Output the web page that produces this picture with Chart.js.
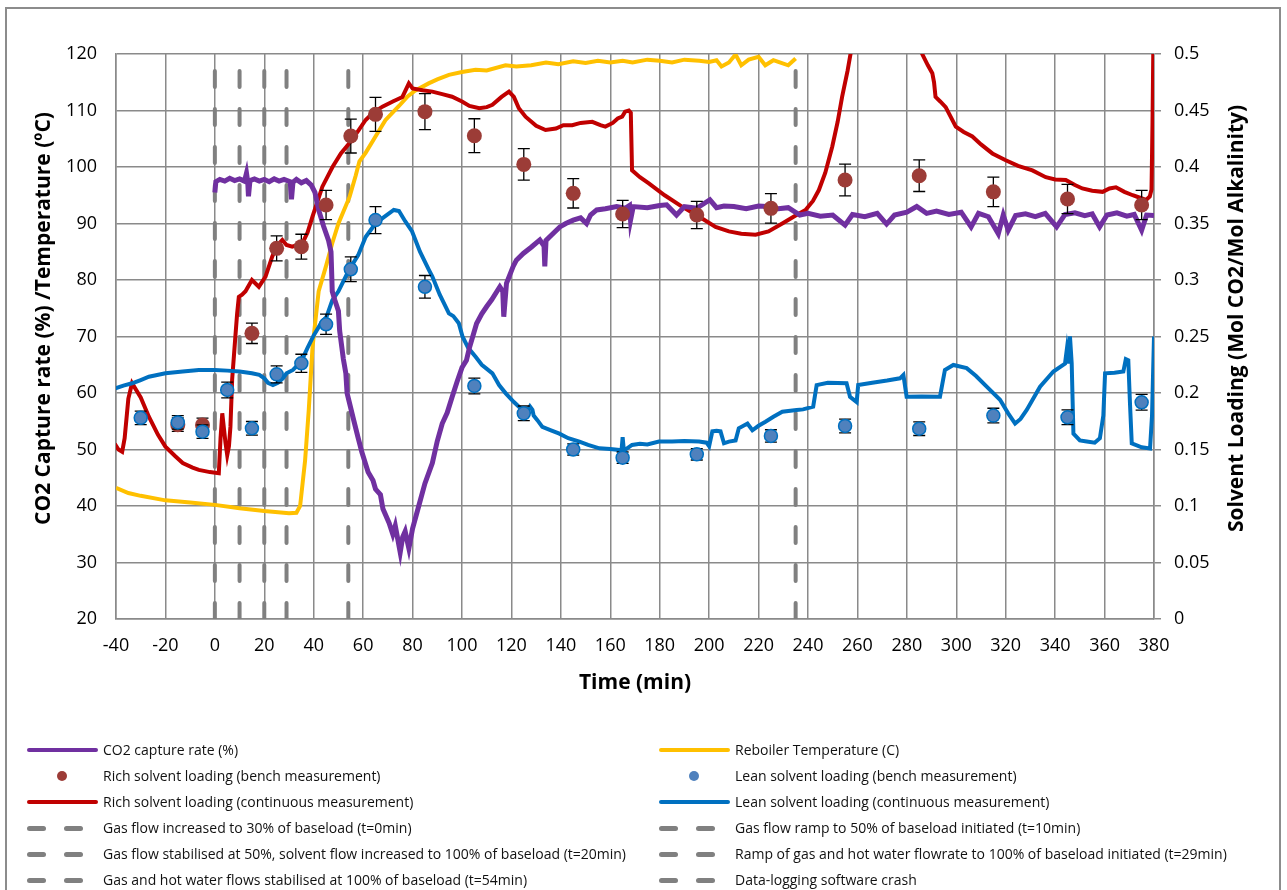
<!DOCTYPE html>
<html>
<head>
<meta charset="utf-8">
<script src="https://cdn.jsdelivr.net/npm/chart.js@4.4.1/dist/chart.umd.min.js"></script>
<style>
  html, body { margin: 0; padding: 0; background: #fff; }
  body { width: 1287px; height: 890px; position: relative; overflow: hidden; font-family: 'Open Sans', sans-serif; }
  #frame { position: absolute; left: 5px; top: 7px; width: 1272px; height: 900px; border: 2px solid #8c8c8c; }
  #chart { position: absolute; left: 0; top: 0; }
  .item { position: absolute; height: 20px; line-height: 20px; font-size: 14px; color: #111; white-space: nowrap; }
  .item .txt { position: absolute; left: 76px; top: 0; }
  .sw { position: absolute; }
</style>
</head>
<body>
<div id="frame"></div>
<canvas id="chart" width="1287" height="890"></canvas>
<div id="legend"></div>
<script>
// CO2 capture rate (%) [time min, value]
const co2Capture = [[0,95.5],[0.4,97.4],[2,97.8],[4,97.5],[6,98.0],[8,97.6],[10,97.9],[12,97.5],[12.8,98.9],[13.3,97.4],[13.6,94.8],[14.2,97.6],[16,97.9],[18,97.5],[20,97.8],[22,97.4],[24,97.9],[26,97.5],[28,97.8],[30.5,97.4],[31,94.3],[31.6,97.3],[33,97.8],[35,97.2],[37,97.6],[39,96.8],[40.5,95.5],[42,92.4],[44,89.5],[46,87],[47,85],[47.5,78],[48.5,76.5],[50,74.5],[50.5,71],[52,66],[53,63.5],[53.5,60],[56,55.5],[58,52],[59.5,49.5],[62,46],[64,44.5],[65,43],[67,42],[68,39.5],[70.5,37],[72,35],[73,36.5],[75,31.8],[76,34.5],[77,35.5],[78.5,32.5],[80,36],[82.5,40],[85,44],[88,47.6],[90,51.5],[92,54.6],[94,56.5],[96,59.3],[98,62],[100,64.5],[101.8,65.8],[103,68],[105.9,72.3],[108,74],[110,75.3],[112,76.5],[115.3,78.8],[116.5,78],[116.9,73.5],[118,79.4],[120.7,82.4],[122,83.5],[124.8,84.7],[128,85.8],[131.5,87.1],[133.2,86],[133.5,82.4],[134,87],[135.6,87.7],[139.6,89.4],[142,90],[145,90.6],[148,91],[150.4,90],[152,91.5],[154.5,92.4],[158,92.6],[162.6,93],[166,92.7],[167.8,93.2],[168.2,90.6],[169.3,93],[175,92.8],[180,93.2],[182.8,93.3],[186.8,91.5],[190,93],[195,92.7],[200.3,94.2],[203,92.8],[206,93.1],[210,93],[215,92.6],[220,93.1],[223.3,93],[228,92.6],[232,92.8],[236.7,91.5],[240,91.8],[245,91.3],[250,91.5],[255,89.7],[258,91.6],[263,91.2],[268,91.8],[271.8,89.9],[275,91.5],[280,92],[284,93],[288,91.8],[292,92.2],[297,91.6],[302,92],[306,89.4],[309,91.8],[313,91.2],[317,88.2],[319,91.5],[321,88.8],[324,91.4],[328,91.7],[332,91.2],[336,91.8],[340.6,89.4],[344,91.6],[348,91.9],[352,91.4],[355,91.7],[358,89.4],[361,91.5],[365,91.9],[369,91.3],[372,91.6],[375,88.8],[377,91.5],[380,91.4]];

// Reboiler temperature (C)
const reboilerTemp = [[-40,43.2],[-35,42.3],[-30,41.8],[-20,41],[-10,40.6],[0,40.2],[10,39.6],[20,39.1],[30,38.7],[33,38.8],[34.5,40],[35.5,44],[36.5,48],[38,57],[39.5,68],[41,74],[42,78],[45,82.5],[47.5,86.5],[50,90],[54.5,94.7],[57,98.5],[58.5,101],[61,102.5],[65,105.4],[69,108.3],[74.5,110.8],[78,112.5],[81,113.5],[86.5,114.8],[90,115.5],[94.7,116.3],[100,116.8],[105.5,117.2],[110,117.1],[117.6,118],[122,117.8],[128,118],[134,118.5],[139,118.2],[145,118.7],[150,118.4],[155,118.8],[160,118.5],[165,118.8],[169,118.5],[175,119],[180,118.8],[185,118.5],[190,119],[196,118.8],[200,118.6],[203,118.9],[205,117.8],[208,118.5],[210.7,119.9],[213,118],[216,119],[220,119.5],[222.7,118],[226,118.9],[228,118.6],[232,118],[235,119.2]];

// Rich solvent loading, continuous (mol/mol)
const richContinuous = [[-40.5,0.155],[-39,0.150],[-37.5,0.148],[-36.5,0.16],[-35,0.195],[-33.5,0.2086],[-30,0.196],[-26.7,0.179],[-23,0.163],[-20,0.1525],[-16,0.144],[-13,0.138],[-9,0.134],[-6.5,0.132],[-2,0.13],[1.6,0.129],[2.3,0.16],[3,0.182],[3.6,0.17],[4.3,0.156],[5,0.145],[5.7,0.153],[6.3,0.17],[7,0.212],[8.3,0.25],[9,0.27],[9.7,0.285],[11,0.287],[12.4,0.29],[15,0.300],[17.8,0.294],[20.5,0.303],[23.2,0.3206],[25,0.33],[27.3,0.3354],[29,0.331],[31.3,0.3295],[35.4,0.3325],[37.5,0.342],[39.5,0.356],[43.5,0.3826],[47.6,0.400],[51,0.412],[54.4,0.421],[58,0.432],[61,0.4416],[64,0.448],[67.8,0.4534],[72,0.458],[75.9,0.462],[78.5,0.474],[80,0.4696],[84,0.468],[88,0.4667],[92,0.4645],[96,0.4622],[100,0.458],[103,0.454],[107,0.452],[110,0.453],[112.3,0.455],[116,0.462],[119,0.4667],[121,0.462],[123,0.452],[125.7,0.4445],[130,0.4365],[133.8,0.4327],[138,0.434],[141,0.437],[144.6,0.437],[148,0.439],[152.7,0.440],[156,0.437],[158,0.4357],[161,0.439],[163,0.443],[164.8,0.4445],[166,0.449],[167.5,0.450],[168.3,0.448],[168.8,0.397],[172,0.391],[175.6,0.3855],[182,0.375],[189,0.365],[196,0.356],[202.6,0.347],[208,0.343],[213,0.341],[218.8,0.340],[224,0.343],[229.6,0.350],[235,0.357],[239,0.362],[242,0.37],[244.4,0.3796],[247,0.395],[249.8,0.418],[252,0.44],[253.8,0.462],[256,0.485],[258,0.51],[262,0.56],[270,0.60],[280,0.58],[284,0.53],[286.2,0.50],[288.5,0.49],[290.3,0.483],[291,0.475],[291.6,0.462],[293.5,0.458],[295.7,0.453],[299.8,0.4357],[303,0.431],[306.5,0.427],[310,0.42],[314.6,0.412],[320,0.406],[325,0.401],[330.8,0.397],[336.2,0.391],[340,0.389],[344.3,0.3885],[348,0.384],[351,0.381],[355,0.379],[359.2,0.378],[362,0.381],[364.6,0.382],[368,0.378],[371.4,0.375],[374,0.373],[376.8,0.3708],[378.3,0.374],[379,0.38],[379.4,0.44],[379.8,0.52]];

// Lean solvent loading, continuous (mol/mol)
const leanContinuous = [[-40.5,0.204],[-37,0.2065],[-33.5,0.2086],[-30,0.2115],[-26.7,0.2144],[-20,0.2174],[-13,0.219],[-6.5,0.2204],[0,0.2204],[5,0.2198],[10,0.219],[15,0.2175],[18,0.216],[20,0.213],[21.5,0.209],[23.5,0.207],[25.5,0.209],[27.5,0.213],[29,0.2175],[31.6,0.2204],[35,0.228],[37.5,0.24],[40,0.251],[43,0.262],[45.2,0.2675],[47.5,0.282],[50,0.29],[54.3,0.309],[58,0.322],[61,0.338],[65,0.350],[68,0.355],[72.4,0.362],[74.5,0.361],[77,0.352],[79.8,0.343],[83,0.325],[86.6,0.309],[88,0.303],[91,0.287],[94.7,0.2705],[96.5,0.268],[98.7,0.2617],[100.2,0.25],[102.5,0.24],[105.5,0.232],[108,0.225],[112.3,0.2174],[115,0.207],[117.7,0.1997],[121,0.192],[124.4,0.185],[126.5,0.184],[127.5,0.188],[128.5,0.185],[129,0.18],[130.5,0.176],[132.5,0.170],[136,0.167],[139.4,0.164],[143,0.160],[147.5,0.157],[151,0.154],[155.6,0.151],[160,0.1505],[163.6,0.1496],[164.5,0.148],[165,0.161],[165.5,0.149],[168.8,0.154],[172,0.155],[175,0.1545],[179.7,0.157],[185,0.157],[190,0.1575],[195.9,0.157],[199,0.156],[200,0.153],[201.3,0.166],[203,0.1665],[204.6,0.166],[206,0.1555],[208,0.157],[210.7,0.158],[212,0.1688],[215.5,0.173],[217.5,0.167],[220,0.171],[222.8,0.1746],[226,0.179],[229.6,0.1835],[235.4,0.185],[238,0.1855],[242.1,0.1879],[243.5,0.207],[248,0.209],[255.6,0.2086],[257,0.1967],[259.7,0.192],[260.3,0.207],[266,0.209],[272,0.211],[277.2,0.213],[278.6,0.216],[279.9,0.1967],[286,0.197],[293.4,0.1967],[295.4,0.2204],[298.8,0.2248],[304.2,0.222],[308,0.215],[312.3,0.2056],[317.7,0.194],[321,0.182],[323.8,0.173],[326,0.177],[328.5,0.185],[333.9,0.2056],[339.3,0.219],[344,0.226],[344.7,0.238],[345.3,0.226],[346,0.25],[346.7,0.226],[347.4,0.164],[350,0.158],[352.8,0.157],[356,0.156],[358.1,0.160],[359.5,0.18],[360.2,0.2174],[364,0.218],[367.6,0.219],[368.6,0.23],[369.6,0.229],[370.3,0.19],[371,0.1555],[375,0.152],[378.4,0.151],[379.2,0.18],[380,0.25]];

// bench measurements with error (+/-)
const richBenchTimes = [-15, -5, 15, 25, 35, 45, 55, 65, 85, 105, 125, 145, 165, 195, 225, 255, 285, 315, 345, 375];
const richBench = [0.172, 0.1717, 0.2528, 0.328, 0.3295, 0.3664, 0.4274, 0.4466, 0.449, 0.4277, 0.4023, 0.3767, 0.3584, 0.3575, 0.3634, 0.3885, 0.3923, 0.378, 0.3717, 0.3664];
const richErr = [0.006, 0.006, 0.009, 0.011, 0.011, 0.013, 0.015, 0.015, 0.016, 0.015, 0.014, 0.013, 0.012, 0.012, 0.013, 0.014, 0.014, 0.013, 0.013, 0.013];
const leanBenchTimes = [-30, -15, -5, 5, 15, 25, 35, 45, 55, 65, 85, 105, 125, 145, 165, 195, 225, 255, 285, 315, 345, 375];
const leanBench = [0.178, 0.174, 0.1658, 0.2027, 0.1688, 0.2165, 0.2263, 0.2608, 0.3095, 0.353, 0.294, 0.2062, 0.182, 0.150, 0.1428, 0.1457, 0.162, 0.1708, 0.1684, 0.180, 0.1785, 0.1918];
const leanErr = [0.006, 0.006, 0.006, 0.007, 0.006, 0.0075, 0.008, 0.009, 0.011, 0.012, 0.010, 0.007, 0.0065, 0.005, 0.005, 0.005, 0.0055, 0.006, 0.006, 0.0065, 0.0065, 0.007];

// process events (vertical dashed lines)
const eventTimes = [0, 10, 20, 29, 54, 235];
const eventLabels = [
  'Gas flow increased to 30% of baseload (t=0min)',
  'Gas flow ramp to 50% of baseload initiated (t=10min)',
  'Gas flow stabilised at 50%, solvent flow increased to 100% of baseload (t=20min)',
  'Ramp of gas and hot water flowrate to 100% of baseload initiated (t=29min)',
  'Gas and hot water flows stabilised at 100% of baseload (t=54min)',
  'Data-logging software crash'
];
const loadingTickLabels = ['0', '0.05', '0.1', '0.15', '0.2', '0.25', '0.3', '0.35', '0.4', '0.45', '0.5'];
const leftTitle = 'CO2 Capture rate (%) /Temperature (ºC)';
const rightTitle = 'Solvent Loading (Mol CO2/Mol Alkalinity)';

const toXY = arr => arr.map(p => ({ x: p[0], y: p[1] }));
const zipXY = (xs, ys) => xs.map((x, i) => ({ x: x, y: ys[i] }));

const gridColor = '#8a8a8a';
const tickFont = { family: "'Open Sans'", size: 18 };
const titleFont = { family: "'Open Sans'", size: 21, weight: 'bold' };

let datasets = [
  { label: 'Lean solvent loading (bench measurement)', data: zipXY(leanBenchTimes, leanBench), errors: leanErr,
    yAxisID: 'y2', showLine: false, pointRadius: 6.5, pointBackgroundColor: '#4F81BD', pointBorderColor: '#0070C0', pointBorderWidth: 1.5 },
  { label: 'Rich solvent loading (bench measurement)', data: zipXY(richBenchTimes, richBench), errors: richErr,
    yAxisID: 'y2', showLine: false, pointRadius: 7.5, pointBackgroundColor: '#9C3C37', pointBorderColor: '#9C3C37', pointBorderWidth: 0 },
  { label: 'CO2 capture rate (%)', data: toXY(co2Capture), yAxisID: 'y', borderColor: '#7030A0', borderWidth: 5, pointRadius: 0 },
  { label: 'Lean solvent loading (continuous measurement)', data: toXY(leanContinuous), yAxisID: 'y2', borderColor: '#0070C0', borderWidth: 4, pointRadius: 0 },
  { label: 'Rich solvent loading (continuous measurement)', data: toXY(richContinuous), yAxisID: 'y2', borderColor: '#C00000', borderWidth: 4, pointRadius: 0 },
  { label: 'Reboiler Temperature (C)', data: toXY(reboilerTemp), yAxisID: 'y', borderColor: '#FFC000', borderWidth: 4, pointRadius: 0 }
];
eventTimes.forEach((t, i) => {
  datasets.push({ label: eventLabels[i], data: [{ x: t, y: 20 }, { x: t, y: 120 }], yAxisID: 'y',
    borderColor: '#808080', borderWidth: 4, borderDash: [16, 22], borderCapStyle: 'round', pointRadius: 0 });
});
// legend is row-major, two columns
const legendOrder = [2, 5, 1, 0, 4, 3, 6, 7, 8, 9, 10, 11];

const errorBars = {
  id: 'errorBars',
  beforeDatasetDraw(chart, args) {
    const ds = chart.data.datasets[args.index];
    if (!ds.errors) return;
    const ctx = chart.ctx, ys = chart.scales[ds.yAxisID];
    ctx.save();
    ctx.strokeStyle = '#000';
    ctx.lineWidth = 1.3;
    args.meta.data.forEach((pt, i) => {
      const v = ds.data[i].y, e = ds.errors[i];
      const y1 = ys.getPixelForValue(v + e), y2 = ys.getPixelForValue(v - e);
      ctx.beginPath();
      ctx.moveTo(pt.x, y1); ctx.lineTo(pt.x, y2);
      ctx.moveTo(pt.x - 6, y1); ctx.lineTo(pt.x + 6, y1);
      ctx.moveTo(pt.x - 6, y2); ctx.lineTo(pt.x + 6, y2);
      ctx.stroke();
    });
    ctx.restore();
  }
};

// both y titles read bottom-to-top, as in the original
const sideTitles = {
  id: 'sideTitles',
  afterDraw(chart) {
    const ctx = chart.ctx, a = chart.chartArea;
    const midY = (a.top + a.bottom) / 2 - 18;
    ctx.save();
    ctx.font = 'bold 21px "Open Sans"';
    ctx.fillStyle = '#000';
    ctx.textAlign = 'center';
    ctx.textBaseline = 'middle';
    [[chart.scales.y.left + 12.6, leftTitle], [chart.scales.y2.right - 12.6, rightTitle]].forEach(([x, txt]) => {
      ctx.save();
      ctx.translate(x, midY);
      ctx.rotate(-Math.PI / 2);
      ctx.fillText(txt, 0, 0);
      ctx.restore();
    });
    ctx.restore();
  }
};

const chart = new Chart(document.getElementById('chart').getContext('2d'), {
  type: 'line',
  data: { datasets: datasets },
  plugins: [errorBars, sideTitles],
  options: {
    responsive: false,
    animation: false,
    layout: { padding: { top: 54, left: 31, right: 37, bottom: 194 } },
    plugins: { legend: { display: false }, tooltip: { enabled: false } },
    scales: {
      x: {
        type: 'linear', min: -40, max: 380,
        ticks: { stepSize: 20, font: tickFont, color: '#000', padding: 16, maxRotation: 0, autoSkip: false },
        grid: { color: gridColor, lineWidth: 1.5, drawTicks: false },
        border: { color: gridColor, width: 1.5 },
        title: { display: true, text: 'Time (min)', font: titleFont, color: '#000', padding: 0 },
        afterFit: s => { s.height = 77; }
      },
      y: {
        position: 'left', min: 20, max: 120,
        ticks: { stepSize: 10, font: tickFont, color: '#000', padding: 19 },
        grid: { color: gridColor, lineWidth: 1.5, drawTicks: false },
        border: { color: gridColor, width: 1.5 },
        afterFit: s => { s.width = 85; }
      },
      y2: {
        position: 'right', min: 0, max: 0.5,
        ticks: { stepSize: 0.05, font: tickFont, color: '#000', padding: 13, callback: (v, i) => loadingTickLabels[i] },
        grid: { drawOnChartArea: false, color: gridColor, lineWidth: 1.5, tickLength: 7 },
        border: { color: gridColor, width: 1.5 },
        afterFit: s => { s.width = 96; }
      }
    }
  }
});

// HTML legend below the chart
const legend = document.getElementById('legend');
legendOrder.forEach((di, k) => {
  const ds = datasets[di];
  const col = k % 2, row = Math.floor(k / 2);
  const item = document.createElement('div');
  item.className = 'item';
  item.style.left = (col === 0 ? 27 : 659) + 'px';
  item.style.top = (740 + row * 26) + 'px';
  const addSw = (l, w, h, color, r) => {
    const s = document.createElement('span');
    s.className = 'sw';
    s.style.cssText = `left:${l}px;top:${10 - h / 2}px;width:${w}px;height:${h}px;background:${color};border-radius:${r}px`;
    item.appendChild(s);
  };
  if (ds.showLine === false) {
    addSw(30, 10, 10, ds.pointBackgroundColor, 5);
  } else if (ds.borderDash) {
    addSw(0, 19, 5, ds.borderColor, 2.5);
    addSw(37, 19, 5, ds.borderColor, 2.5);
  } else {
    addSw(0, 71, 4, ds.borderColor, 2);
  }
  const t = document.createElement('span');
  t.className = 'txt';
  t.textContent = ds.label;
  item.appendChild(t);
  legend.appendChild(item);
});
</script>
</body>
</html>
